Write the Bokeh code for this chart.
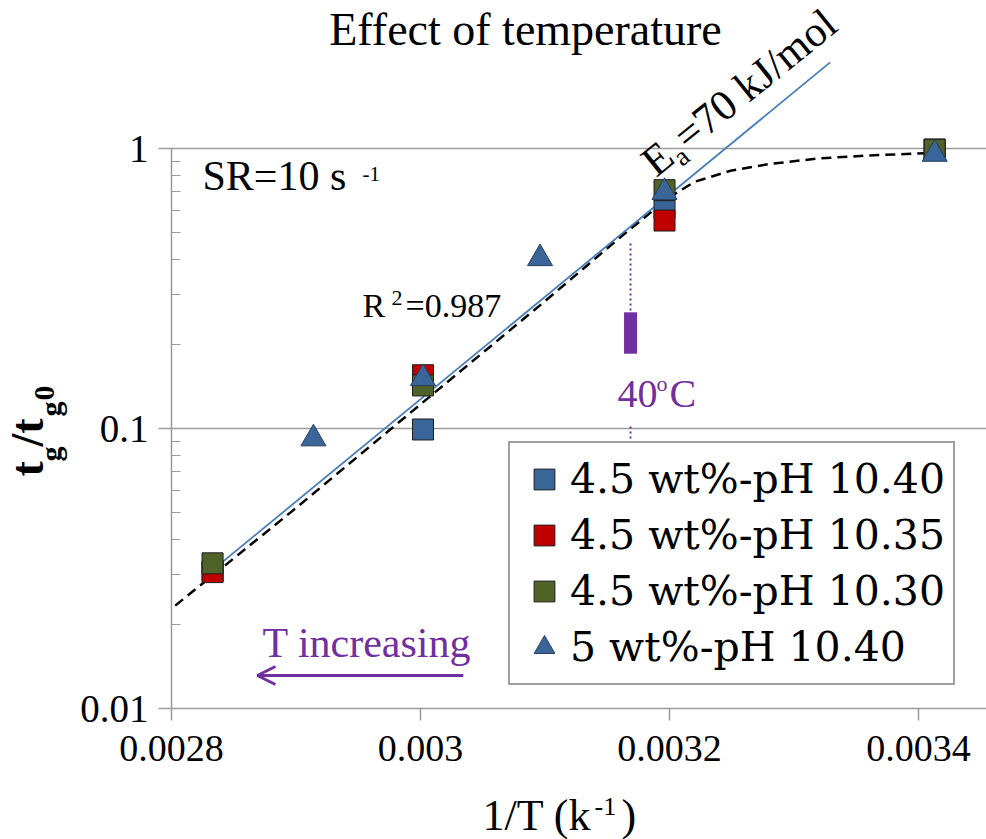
import numpy as np
from bokeh.plotting import figure
from bokeh.models import (Range1d, FixedTicker, CustomJSTickFormatter, Label, Arrow,
                          OpenHead, Legend, LegendItem)
from bokeh.embed import file_html
from bokeh.resources import INLINE

# ---------------- data ----------------
sq_x = [0.002833, 0.003002, 0.003196, 0.003413]
blue_sq_y = [0.031, 0.0992, 0.615, 0.99]      # 4.5 wt%-pH 10.40
red_sq_y = [0.0307, 0.155, 0.553, 0.99]       # 4.5 wt%-pH 10.35
green_sq_y = [0.033, 0.1425, 0.71, 0.99]      # 4.5 wt%-pH 10.30
tri_x = [0.002914, 0.003002, 0.003096, 0.003196, 0.003413]
tri_y = [0.092, 0.151, 0.405, 0.698, 0.955]   # 5 wt%-pH 10.40

fit_x = [0.002833, 0.003329]                  # Arrhenius fit, Ea = 70 kJ/mol
fit_y = [0.0312, 2.03]
trend_x = [0.002803, 0.0029, 0.003, 0.0031, 0.00316, 0.0032, 0.00322,
           0.00325, 0.00328, 0.00332, 0.00336, 0.003405]
trend_y = [0.0233, 0.052, 0.122, 0.285, 0.48, 0.67, 0.76,
           0.835, 0.88, 0.922, 0.944, 0.962]

series_labels = ["4.5 wt%-pH 10.40", "4.5 wt%-pH 10.35",
                 "4.5 wt%-pH 10.30", "5 wt%-pH 10.40"]
x_ticks = [0.0028, 0.003, 0.0032, 0.0034]
y_ticks = [0.01, 0.1, 1]
grid_y = [0.1, 1]

t40_x = 0.0031687                 # 40 oC marker position
t40_bar = [0.185, 0.26]
t40_dots_top = [0.264, 0.461]
t40_dots_bottom = [0.0497, 0.103]
arrow_x = [0.0030344, 0.0028690]  # "T increasing" arrow (start, end)
arrow_y = 0.01312

# ---------------- styles ----------------
BLUE = "#3A6598"
RED = "#C00000"
GREEN = "#4F6228"
PURPLE = "#7030A0"
GRAY = "#9A9A9A"
SERIF = "Liberation Serif"

W, H = 986, 839
AX_L, AX_B = 171, 708          # canvas pixel of x=0.0028 / y=0.01
DX = 0.0002 / 249              # data per pixel (x)
DEC = 280                      # pixels per decade (y)
X_START = x_ticks[0] - AX_L * DX
X_END = x_ticks[0] + (W - AX_L) * DX
Y_TOP = 10 ** ((AX_B - 0) / DEC - 2)
Y_BOT = 10 ** (-(H - AX_B) / DEC - 2)

p = figure(width=W, height=H, x_range=Range1d(X_START, X_END),
           y_range=Range1d(Y_BOT, Y_TOP), y_axis_type="log",
           output_backend="svg", toolbar_location=None, title=None,
           min_border=0)
p.outline_line_color = None
p.background_fill_color = "white"
p.xgrid.visible = False
p.ygrid.visible = False

fmt = "return tick.toString()"

xa = p.xaxis[0]
xa.fixed_location = y_ticks[0]
xa.bounds = (x_ticks[0], X_END)
xa.ticker = FixedTicker(ticks=x_ticks, minor_ticks=[])
xa.formatter = CustomJSTickFormatter(code=fmt)
xa.axis_line_color = GRAY
xa.axis_line_width = 1.5
xa.major_tick_line_color = GRAY
xa.major_tick_line_width = 1.5
xa.major_tick_out = 12
xa.major_tick_in = 0
xa.minor_tick_line_color = None
xa.major_label_text_font = SERIF
xa.major_label_text_font_size = "38px"
xa.major_label_text_color = "black"
xa.major_label_standoff = 15

minor_y = [k * 10.0 ** e for e in (-2, -1) for k in range(2, 10)]
ya = p.yaxis[0]
ya.fixed_location = x_ticks[0]
ya.bounds = (y_ticks[0], y_ticks[-1])
ya.ticker = FixedTicker(ticks=y_ticks, minor_ticks=minor_y)
ya.formatter = CustomJSTickFormatter(code=fmt)
ya.axis_line_color = GRAY
ya.axis_line_width = 1.5
ya.major_tick_line_color = GRAY
ya.major_tick_line_width = 1.5
ya.major_tick_out = 13
ya.major_tick_in = 0
ya.minor_tick_line_color = GRAY
ya.minor_tick_line_width = 1
ya.minor_tick_in = 9
ya.minor_tick_out = 0
ya.major_label_text_font = SERIF
ya.major_label_text_font_size = "39px"
ya.major_label_text_color = "black"
ya.major_label_standoff = 10

# horizontal grid lines (from the y axis to the right edge)
p.segment(x0=[x_ticks[0]] * len(grid_y), x1=[X_END] * len(grid_y),
          y0=grid_y, y1=grid_y, line_color=GRAY, line_width=1.5,
          level="underlay")

# trend curve and fit line
p.line(trend_x, trend_y, line_color="black", line_width=2.5, line_dash="10 6")
p.line(fit_x, fit_y, line_color="#4A7EBB", line_width=1.8)

# 40 oC bar
half = 6.5 * DX
p.quad(left=[t40_x - half], right=[t40_x + half], bottom=[t40_bar[0]],
       top=[t40_bar[1]], fill_color=PURPLE, line_color=None)

# markers
OUT = "#1E1E1E"
r1 = p.scatter(sq_x, blue_sq_y, marker="square", size=21, fill_color=BLUE,
               line_color=OUT, line_width=1)
r2 = p.scatter(sq_x, red_sq_y, marker="square", size=21, fill_color=RED,
               line_color=OUT, line_width=1)
r3 = p.scatter(sq_x, green_sq_y, marker="square", size=21, fill_color=GREEN,
               line_color=OUT, line_width=1)
r4 = p.scatter(tri_x, tri_y, marker="triangle", size=25, fill_color=BLUE,
               line_color="#2A3F5F", line_width=1)

legend = Legend(
    items=[LegendItem(label=lab, renderers=[r]) for lab, r in
           zip(series_labels, [r1, r2, r3, r4])],
    location=(508, H - 685),
    label_text_font="DejaVu Serif", label_text_font_size="41px",
    label_text_color="black",
    glyph_width=52, glyph_height=56, spacing=0, padding=8,
    label_standoff=0, margin=0,
    border_line_color="#404040", border_line_width=2,
    background_fill_color="white", background_fill_alpha=1.0,
)
p.add_layout(legend)

# dotted 40 oC guide (drawn above the legend)
for seg in (t40_dots_top, t40_dots_bottom):
    p.add_layout(Arrow(x_start=t40_x, y_start=seg[0], x_end=t40_x, y_end=seg[1],
                       end=None, line_color=PURPLE, line_width=2,
                       line_dash="2 3"))

# T increasing arrow
p.add_layout(Arrow(x_start=arrow_x[0], y_start=arrow_y, x_end=arrow_x[1],
                   y_end=arrow_y, line_color=PURPLE, line_width=3,
                   end=OpenHead(size=18, line_color=PURPLE, line_width=3)))


def text(px, py, s, size, color="black", font=SERIF, style="normal",
         angle_deg=0.0, align="left"):
    """Place text so that its baseline starts at canvas pixel (px, py)."""
    a = np.deg2rad(angle_deg)
    k = 0.35 * size
    ax = px - np.sin(a) * k
    ay = py - np.cos(a) * k
    p.add_layout(Label(x=ax, y=ay, x_units="canvas", y_units="canvas",
                       text=s, text_font=font, text_font_size=f"{size}px",
                       text_color=color, text_font_style=style, angle=a,
                       text_align=align, text_baseline="alphabetic"))


# title
text(525, 45, "Effect of temperature", 46, align="center")

# x axis title: 1/T (k^-1)
text(482, 830, "1/T (k", 44)
text(594, 815, "-1", 26)
text(621, 830, ")", 44)

# y axis title: t_g / t_g0 (rotated)
text(43, 476, "t", 46, style="bold", angle_deg=90)
text(60, 461, "g", 30, style="bold", angle_deg=90)
text(43, 446, "/t", 46, style="bold", angle_deg=90)
text(60, 416, "g", 30, style="bold", angle_deg=90)
text(54, 400, "0", 30, style="bold", angle_deg=90)

# SR = 10 s^-1
text(202, 190, "SR=10 s", 42)
text(362, 181, "-1", 21)

# R^2
text(362, 317, "R", 34)
text(391, 305, "2", 22)
text(405, 317, "=0.987", 34)

# 40 oC
text(617, 407, "40", 40, color=PURPLE)
text(656, 391, "o", 22, color=PURPLE)
text(669, 407, "C", 40, color=PURPLE)

# T increasing
text(262, 657, "T increasing", 42, color=PURPLE)

# Ea = 70 kJ/mol (rotated along the fit line)
text(656, 178, "E", 43, angle_deg=39)
text(682, 167, "a", 27, angle_deg=39)
text(688, 152, "=70 kJ/mol", 43, angle_deg=39)

open("out.html", "w").write(file_html(p, INLINE))
